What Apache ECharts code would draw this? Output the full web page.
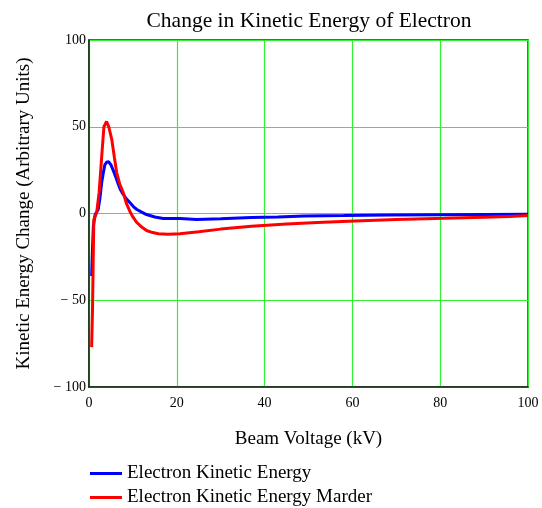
<!DOCTYPE html>
<html><head><meta charset="utf-8">
<script src="https://cdn.jsdelivr.net/npm/echarts@6/dist/echarts.min.js"></script>
<style>html,body{margin:0;padding:0;background:#fff}#c{width:542px;height:508px}</style>
</head><body><div id="c"></div>
<script>
const seriesNames = ['Electron Kinetic Energy', 'Electron Kinetic Energy Marder'];
const xTicks = [0, 20, 40, 60, 80, 100];
const yTicks = [-100, -50, 0, 50, 100];
const blueX = [0.6,0.8,1.0,1.4,2.1,2.5,2.9,3.3,3.6,4.0,4.5,5.0,5.5,6.1,6.7,7.2,7.8,8.5,9.3,10.1,10.9,12,13.1,15,16.9,20.7,24.5,30,37,43,49,58,68.7,80,90,100];
const blueY = [-36,-20,-7,-0.6,2.3,9,18,24,28,29.5,29.8,28,25,21,16.7,13.5,11,8.5,6.3,4,2.3,0.8,-0.6,-2,-2.9,-2.9,-3.5,-3,-2.3,-2,-1.4,-1.2,-0.8,-0.7,-0.6,-0.5];
const redX = [0.6,0.8,1.0,1.1,1.75,2.3,2.9,3.4,4.0,4.5,5.2,5.8,6.3,7.0,7.8,8.5,9.3,10.0,10.9,12,13.1,14.5,15.8,18,20.7,25,30,37,45,52,60.6,70,81,90,95.7,100];
const redY = [-77,-55,-20,-3.5,0.5,12,33,50,53,50,42.6,32,23.6,17,12,6,1.3,-2,-5.2,-7.8,-9.8,-11,-11.7,-12,-11.7,-10.5,-9,-7.3,-6,-5.2,-4.3,-3.5,-2.8,-2.1,-1.7,-1.2];

const zip = (a, b) => a.map((v, i) => [v, b[i]]);
const font = '"Liberation Serif", "DejaVu Serif", serif';
const legendBase = { itemWidth: 32, itemHeight: 3, icon: 'rect', left: 85, itemGap: 6,
  textStyle: { fontFamily: font, fontSize: 19, color: '#000' } };
const chart = echarts.init(document.getElementById('c'));
chart.setOption({
  animation: false,
  backgroundColor: '#fff',
  title: {
    text: 'Change in Kinetic Energy of Electron',
    left: 304, top: 5, textAlign: 'center',
    textStyle: { fontFamily: font, fontSize: 21.5, fontWeight: 'normal', color: '#000' }
  },
  legend: [
    Object.assign({}, legendBase, { top: 459, data: [seriesNames[0]] }),
    Object.assign({}, legendBase, { top: 483, data: [seriesNames[1]] })
  ],
  grid: { left: 89, right: 14, top: 40, bottom: 121, show: true, borderColor: '#1a3a1a', borderWidth: 1.5 },
  xAxis: {
    type: 'value', min: 0, max: 100, interval: 20,
    name: 'Beam Voltage (kV)', nameLocation: 'middle', nameGap: 43,
    nameTextStyle: { fontFamily: font, fontSize: 19, color: '#000' },
    axisLine: { show: true, onZero: false, lineStyle: { color: '#1a2a1a', width: 1.5 } },
    axisTick: { show: false },
    axisLabel: { fontFamily: font, fontSize: 14, color: '#000', margin: 9,
      formatter: v => xTicks.includes(v) ? String(v) : '' },
    splitLine: { show: true, lineStyle: { color: '#33f033', width: 1.2 } }
  },
  yAxis: {
    type: 'value', min: -100, max: 100, interval: 50,
    name: 'Kinetic Energy Change (Arbitrary Units)', nameLocation: 'middle', nameGap: 55,
    nameTextStyle: { fontFamily: font, fontSize: 19, color: '#000' },
    axisLine: { show: true, onZero: false, lineStyle: { color: '#1a2a1a', width: 1.5 } },
    axisTick: { show: false },
    axisLabel: { fontFamily: font, fontSize: 14, color: '#000', margin: 3,
      formatter: v => yTicks.includes(v) ? (v < 0 ? '\u2212 ' + Math.abs(v) : String(v)) : '' },
    splitLine: { show: true, lineStyle: { color: '#33f033', width: 1.2 } }
  },
  series: [
    { name: seriesNames[0], type: 'line', data: zip(blueX, blueY), showSymbol: false, symbol: 'none',
      lineStyle: { color: '#0000ff', width: 3 }, itemStyle: { color: '#0000ff' } },
    { name: seriesNames[1], type: 'line', data: zip(redX, redY), showSymbol: false, symbol: 'none',
      lineStyle: { color: '#ff0000', width: 3 }, itemStyle: { color: '#ff0000' } }
  ]
});
</script></body></html>
